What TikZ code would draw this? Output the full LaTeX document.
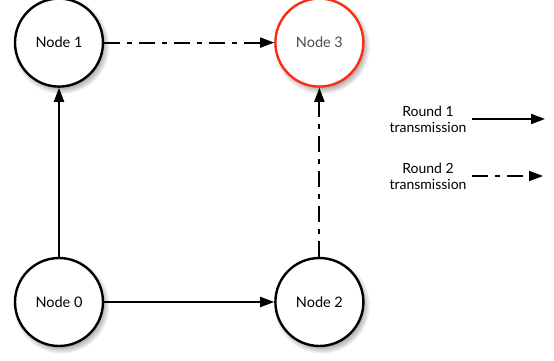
\documentclass[tikz,border=0pt]{standalone}
\usepackage{fontspec}
\setmainfont{Lato}
\usetikzlibrary{arrows.meta,positioning,shadows}
\definecolor{ringred}{RGB}{250,45,20}
\tikzset{
  netnode/.style={circle, draw=black, line width=2.4pt, fill=white,
                  minimum size=88pt, inner sep=0pt, font=\fontsize{14.5}{17}\selectfont,
                  circular drop shadow={shadow xshift=2pt, shadow yshift=-3pt,
                                        shadow scale=1.1, opacity=0.6}},
  hotnode/.style={netnode, draw=ringred, text=black!70},
  roundone/.style={-{Triangle[length=14pt,width=10pt]}, line width=2pt},
  roundtwo/.style={roundone, dash pattern=on 16pt off 7pt on 5pt off 7pt},
  lbl/.style={font=\fontsize{14}{16}\selectfont, align=center},
}
\begin{document}
\begin{tikzpicture}[x=1pt, y=1pt, node distance=169pt and 170pt]
  \useasboundingbox (0,0) rectangle (554,360);
  \node[netnode] (n0) at (59,58) {Node 0};
  \node[netnode, above=of n0] (n1) {Node 1};
  \node[netnode, right=of n0] (n2) {Node 2};
  \node[hotnode, right=of n1] (n3) {Node 3};
  % legend
  \node[lbl] (r1) at (428,241) {Round 1\\transmission};
  \node[lbl] (r2) at (428,184) {Round 2\\transmission};
  \coordinate (r1end) at (545,241);
  \coordinate (r2end) at (543,184);
  \draw[roundone] (r1.east) ++(2pt,0) coordinate (r1start) -- (r1end);
  \draw[roundtwo] (r2.east) ++(2pt,0) coordinate (r2start) -- (r2end);
  % edges
  \draw[roundone] (n0) -- (n1);
  \draw[roundone] (n0) -- (n2);
  \draw[roundtwo] (n1) -- (n3);
  \draw[roundtwo] (n2) -- (n3);
\end{tikzpicture}
\end{document}
